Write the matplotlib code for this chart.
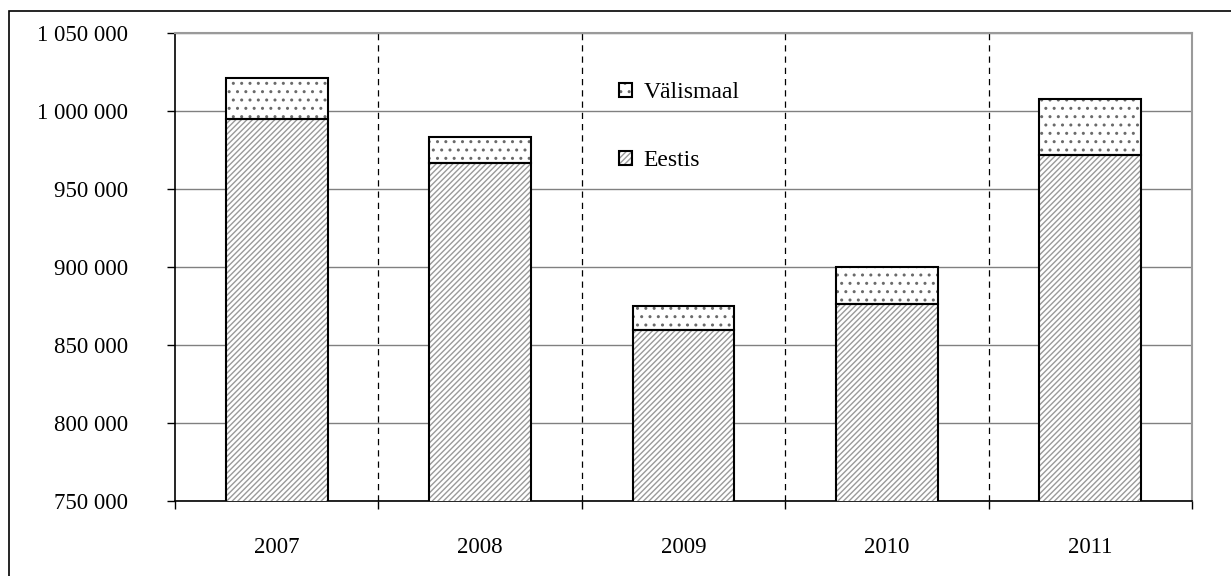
import numpy as np
import matplotlib.pyplot as plt
from matplotlib.patches import Patch, Rectangle
from matplotlib.ticker import FuncFormatter

years = ['2007', '2008', '2009', '2010', '2011']
eestis = [994700, 966700, 859400, 876000, 971700]
valismaal_total = [1021400, 983600, 874700, 899900, 1007500]
valismaal = [t - e for t, e in zip(valismaal_total, eestis)]

plt.rcParams['font.family'] = ['Liberation Serif', 'DejaVu Serif']
plt.rcParams['hatch.linewidth'] = 1.0
grey = '#9a9a9a'
dotgrey = '#6a6a6a'

fig = plt.figure(figsize=(12.31, 5.76), dpi=100)
ax = fig.add_axes([175 / 1231, 1 - 501 / 576, (1192 - 175) / 1231, (501 - 33) / 576])

x = np.arange(1, len(years) + 1)
w = 0.5

# hatch layer (grey), then black outlines on top
ax.bar(x, eestis, w, color='white', edgecolor=grey, hatch='//////', linewidth=0, zorder=3)
ax.bar(x, valismaal, w, bottom=eestis, color='white', edgecolor=dotgrey, hatch='..', linewidth=0, zorder=3)
ax.bar(x, eestis, w, fill=False, edgecolor='black', linewidth=1.5, zorder=4)
ax.bar(x, valismaal, w, bottom=eestis, fill=False, edgecolor='black', linewidth=1.5, zorder=4)

ax.set_xlim(0.5, len(years) + 0.5)
ax.set_ylim(750000, 1050000)
ax.set_yticks(np.arange(750000, 1050001, 50000))
ax.yaxis.set_major_formatter(FuncFormatter(lambda v, p: f'{int(v):,}'.replace(',', ' ')))

ax.yaxis.grid(True, color='#808080', linewidth=1.0, zorder=1)
for b in np.arange(1.5, len(years), 1.0):
    ax.axvline(b, color='black', linewidth=0.9, dashes=(5, 4), zorder=1)

ax.set_xticks(np.arange(0.5, len(years) + 1, 1.0))
ax.set_xticklabels([])
ax.set_xticks(x, minor=True)
ax.set_xticklabels(years, minor=True)
ax.tick_params(axis='x', which='major', direction='out', length=6, width=1)
ax.tick_params(axis='x', which='minor', length=0, pad=26, labelsize=16.5)
ax.tick_params(axis='y', direction='out', length=6, width=1, pad=28, labelsize=16.5)

for s in ['top', 'right']:
    ax.spines[s].set_color(grey)
    ax.spines[s].set_linewidth(1.5)
for s in ['left', 'bottom']:
    ax.spines[s].set_color('black')
    ax.spines[s].set_linewidth(1.2)

# white box behind the legend (hides grid line)
ax.add_patch(Rectangle(((593 - 175) / 1017, (501 - 180) / 468), 170 / 1017, 125 / 468,
                       transform=ax.transAxes, facecolor='white', edgecolor='none', zorder=1.5))

h_v = (Patch(facecolor='white', edgecolor=dotgrey, hatch='..', linewidth=0),
       Patch(fill=False, edgecolor='black', linewidth=1.5))
h_e = (Patch(facecolor='white', edgecolor=grey, hatch='//////', linewidth=0),
       Patch(fill=False, edgecolor='black', linewidth=1.5))
leg = ax.legend([h_v, h_e], ['Välismaal', 'Eestis'], loc='center',
                bbox_to_anchor=(0.4957, 0.80), fontsize=17, frameon=False,
                handlelength=0.55, handleheight=0.55, handletextpad=0.5,
                labelspacing=2.0)
leg.set_zorder(5)

# outer chart frame
fig.add_artist(Rectangle((9 / 1231, -0.2), 1.2, 1.2 - 11 / 576, transform=fig.transFigure,
                         fill=False, edgecolor='black', linewidth=1.2))

fig.savefig('out.png', dpi=100)
